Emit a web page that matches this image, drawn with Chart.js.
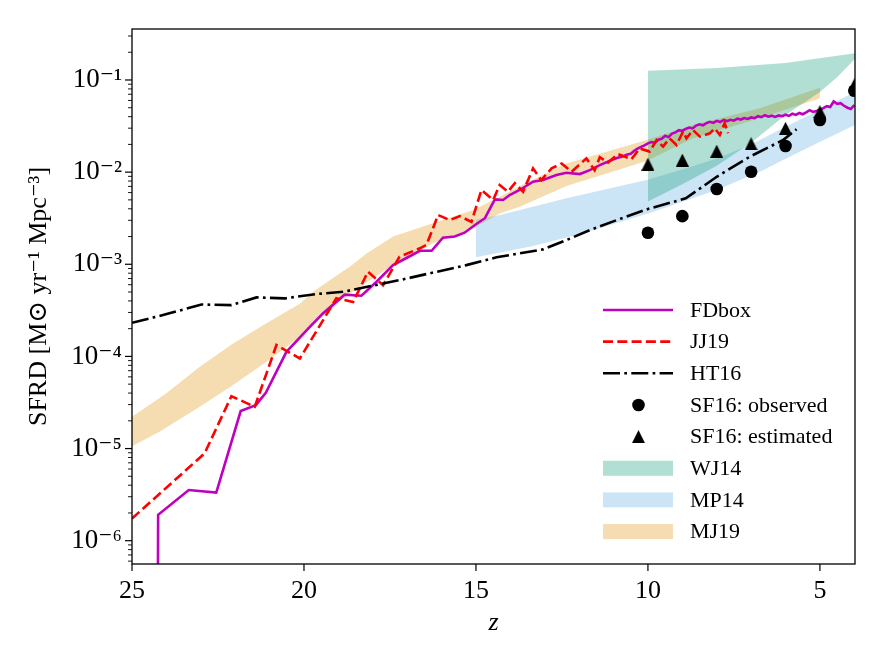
<!DOCTYPE html>
<html>
<head>
<meta charset="utf-8">
<script src="https://cdn.jsdelivr.net/npm/chart.js@4.4.1/dist/chart.umd.min.js"></script>
<style>html,body{margin:0;padding:0;background:#fff;}canvas{display:block;}</style>
</head>
<body>
<canvas id="c" width="884" height="663" style="width:884px;height:663px"></canvas>
<script>
// ---------------- data ----------------
const zTickValues = [25, 20, 15, 10, 5];

const fdboxZ = [24.26, 24.24, 23.35, 22.55, 21.84, 21.40, 21.11, 20.51, 19.83, 19.45, 18.82, 18.33, 17.89, 17.41, 17.02, 16.63, 16.29, 15.96, 15.62, 15.33, 15.03, 14.74, 14.45, 14.21, 14.02, 13.73, 13.34, 13.05, 12.66, 12.37, 11.98, 11.69, 11.40,
  11.0, 10.9, 10.8, 10.7, 10.6, 10.5, 10.4, 10.3, 10.2, 10.1, 10.0, 9.9, 9.8, 9.7, 9.6, 9.5, 9.4, 9.3, 9.2, 9.1, 9.0, 8.9, 8.8, 8.7, 8.6, 8.5, 8.4, 8.3, 8.2, 8.1, 8.0,
  7.9, 7.8, 7.7, 7.6, 7.5, 7.4, 7.3, 7.2, 7.1, 7.0, 6.9, 6.8, 6.7, 6.6, 6.5, 6.4, 6.3, 6.2, 6.1, 6.0, 5.9, 5.8, 5.7, 5.6, 5.5, 5.4, 5.3, 5.2, 5.1, 5.0,
  4.9, 4.8, 4.7, 4.6, 4.5, 4.4, 4.3, 4.2, 4.1, 4.0];
const fdboxSFRD = [1e-8, 1.91e-6, 3.55e-6, 3.33e-6, 2.55e-5, 2.96e-5, 4.03e-5, 1.12e-4, 2.09e-4, 2.93e-4, 4.68e-4, 4.55e-4, 6.46e-4, 9.79e-4, 1.17e-3, 1.40e-3, 1.40e-3, 1.94e-3, 2.00e-3, 2.20e-3, 2.67e-3, 3.16e-3, 5.06e-3, 4.98e-3, 5.64e-3, 6.40e-3, 7.87e-3, 8.20e-3, 9.31e-3, 9.86e-3, 9.53e-3, 1.05e-2, 1.19e-2,
  1.38e-2, 1.42e-2, 1.46e-2, 1.50e-2, 1.55e-2, 1.58e-2, 1.70e-2, 1.80e-2, 1.88e-2, 1.95e-2, 2.05e-2, 2.12e-2, 2.08e-2, 2.25e-2, 2.30e-2, 2.48e-2, 2.40e-2, 2.62e-2, 2.70e-2, 2.85e-2, 2.80e-2, 2.95e-2, 3.05e-2, 2.98e-2, 3.20e-2, 3.30e-2, 3.22e-2, 3.40e-2, 3.52e-2, 3.42e-2, 3.60e-2,
  3.50e-2, 3.68e-2, 3.58e-2, 3.70e-2, 3.62e-2, 3.80e-2, 3.72e-2, 3.86e-2, 3.78e-2, 3.92e-2, 3.85e-2, 4.05e-2, 3.95e-2, 4.15e-2, 4.00e-2, 4.10e-2, 3.98e-2, 4.12e-2, 4.05e-2, 4.20e-2, 4.08e-2, 4.30e-2, 4.18e-2, 4.38e-2, 4.25e-2, 4.45e-2, 4.70e-2, 4.50e-2, 4.62e-2, 4.75e-2,
  4.95e-2, 5.20e-2, 5.10e-2, 5.85e-2, 5.50e-2, 5.60e-2, 5.25e-2, 5.00e-2, 4.85e-2, 5.35e-2];

const jj19Z = [25.0, 22.89, 22.11, 21.43, 20.80, 20.12, 19.06, 18.57, 18.14, 17.70, 17.22, 16.63, 16.44, 16.10, 15.76, 15.47, 15.13, 14.84, 14.50, 14.31, 14.07, 13.87, 13.63, 13.34, 13.10, 12.80, 12.51, 12.22, 11.79, 11.55, 11.40, 11.16, 10.87, 10.48, 10.24, 9.95, 9.75, 9.56, 9.37, 9.17, 8.98, 8.88, 8.69, 8.49, 8.20, 8.06, 7.91, 7.77, 7.67];
const jj19SFRD = [1.74e-6, 8.85e-6, 3.70e-5, 2.84e-5, 1.33e-4, 9.50e-5, 4.27e-4, 3.90e-4, 8.30e-4, 5.94e-4, 1.21e-3, 1.49e-3, 1.62e-3, 3.42e-3, 3.02e-3, 3.33e-3, 2.89e-3, 6.40e-3, 4.98e-3, 7.25e-3, 6.12e-3, 7.59e-3, 6.12e-3, 1.10e-2, 8.20e-3, 1.10e-2, 1.24e-2, 1.01e-2, 1.41e-2, 1.05e-2, 1.45e-2, 1.27e-2, 1.57e-2, 1.38e-2, 1.81e-2, 1.67e-2, 2.23e-2, 1.89e-2, 2.33e-2, 1.97e-2, 2.75e-2, 2.33e-2, 2.86e-2, 2.43e-2, 2.64e-2, 2.99e-2, 2.53e-2, 3.39e-2, 2.64e-2];

const ht16Z = [25.0, 24.10, 22.98, 22.11, 21.38, 20.56, 19.64, 18.86, 17.22, 15.28, 14.40, 13.05, 12.37, 11.69, 10.72, 10.0, 8.9, 8.0, 7.04, 6.07, 5.68];
const ht16SFRD = [2.32e-4, 2.81e-4, 3.66e-4, 3.60e-4, 4.37e-4, 4.26e-4, 4.75e-4, 5.03e-4, 6.73e-4, 9.79e-4, 1.19e-3, 1.45e-3, 1.83e-3, 2.35e-3, 3.20e-3, 3.98e-3, 5.19e-3, 8.90e-3, 1.47e-2, 2.23e-2, 2.92e-2];

const sf16Z = [10, 9, 8, 7, 6, 5, 4];
const sf16Observed = [2.20e-3, 3.33e-3, 6.56e-3, 1.01e-2, 1.92e-2, 3.68e-2, 7.65e-2];
const sf16Estimated = [1.22e-2, 1.35e-2, 1.69e-2, 2.03e-2, 2.99e-2, 4.53e-2, 8.83e-2];

const wj14UpperZ = [10, 8, 6, 3.98];
const wj14Upper = [0.126, 0.135, 0.153, 0.195];
const wj14LowerZ = [10, 9, 8, 7, 6, 5, 4.5, 3.98];
const wj14Lower = [4.79e-3, 7.41e-3, 1.17e-2, 2.09e-2, 4.17e-2, 7.41e-2, 1.07e-1, 1.70e-1];

const mp14UpperZ = [15, 14.3, 12.37, 10.04, 9, 8, 7, 6, 5, 3.98];
const mp14Upper = [3.07e-3, 3.42e-3, 5.19e-3, 8.20e-3, 1.07e-2, 1.41e-2, 2.00e-2, 3.11e-2, 4.72e-2, 7.46e-2];
const mp14LowerZ = [15, 13.34, 11.89, 10, 8, 6.65, 6.07, 5.1, 3.98];
const mp14Lower = [1.19e-3, 1.58e-3, 2.17e-3, 3.55e-3, 6.40e-3, 1.05e-2, 1.35e-2, 2.05e-2, 3.24e-2];

const mj19UpperZ = [25, 24.0, 23.03, 22.06, 21.09, 20.12, 19.74, 19.16, 18.67, 18.18, 17.41, 16.25, 15.08, 14.31, 13.73, 12.37, 10.04, 8.69, 6.75, 5.0];
const mj19Upper = [2.21e-5, 3.98e-5, 7.71e-5, 1.38e-4, 2.29e-4, 3.72e-4, 5.01e-4, 7.08e-4, 9.40e-4, 1.31e-3, 2.00e-3, 2.78e-3, 3.87e-3, 5.41e-3, 7.08e-3, 1.24e-2, 2.23e-2, 3.24e-2, 4.93e-2, 8.26e-2];
const mj19LowerZ = [25, 24.2, 23.03, 22.06, 21.09, 20.12, 19.35, 18.67, 17.5, 16.25, 15.08, 14.31, 13.73, 12.37, 10.04, 8.69, 6.75, 5.0];
const mj19Lower = [1.06e-5, 1.52e-5, 2.84e-5, 4.88e-5, 8.75e-5, 1.63e-4, 2.93e-4, 4.83e-4, 9.33e-4, 1.69e-3, 2.45e-3, 3.55e-3, 4.22e-3, 7.08e-3, 1.32e-2, 2.33e-2, 3.84e-2, 6.32e-2];

// ---------------- helpers ----------------
const SERIF = "'Liberation Serif', 'DejaVu Serif', serif";
function pts(zs, vs) { return zs.map((z, i) => ({ x: z, y: vs[i] })); }
const SUP = { '-': '\u207B', '0': '\u2070', '1': '\u00B9', '2': '\u00B2', '3': '\u00B3', '4': '\u2074', '5': '\u2075', '6': '\u2076', '7': '\u2077', '8': '\u2078', '9': '\u2079' };
function sup(n) { return String(n).split('').map(c => SUP[c]).join(''); }

const triangle = (() => {
  const s = 13, c = document.createElement('canvas');
  c.width = s; c.height = s;
  const g = c.getContext('2d');
  g.fillStyle = '#000';
  g.beginPath(); g.moveTo(s / 2, 0); g.lineTo(s, s); g.lineTo(0, s); g.closePath(); g.fill();
  return c;
})();

const LW = 2.6;
const lineBase = { pointRadius: 0, pointHoverRadius: 0, tension: 0, fill: false, clip: 0 };
const bandBase = { pointRadius: 0, pointHoverRadius: 0, tension: 0, borderWidth: 0, borderColor: 'rgba(0,0,0,0)', clip: 0 };

const datasets = [
  { label: 'SF16: estimated', data: pts(sf16Z, sf16Estimated), showLine: false, pointStyle: triangle, pointRadius: 7, backgroundColor: '#000', borderWidth: 0, clip: 0, legendKind: 'marker' },
  { label: 'SF16: observed', data: pts(sf16Z, sf16Observed), showLine: false, pointStyle: 'circle', pointRadius: 6.3, backgroundColor: '#000', borderColor: '#000', borderWidth: 0, clip: 0, legendKind: 'marker' },
  { ...lineBase, label: 'HT16', data: pts(ht16Z, ht16SFRD), borderColor: '#000', borderWidth: LW, borderDash: [17, 4.3, 2.7, 4.3], legendKind: 'line' },
  { ...lineBase, label: 'JJ19', data: pts(jj19Z, jj19SFRD), borderColor: '#ff0000', borderWidth: LW, borderDash: [10, 4.3], legendKind: 'line' },
  { ...lineBase, label: 'FDbox', data: pts(fdboxZ, fdboxSFRD), borderColor: '#bf00bf', borderWidth: LW, legendKind: 'line' },
  { ...bandBase, label: 'WJ14', data: pts(wj14LowerZ, wj14Lower), fill: '+1', backgroundColor: 'rgba(0,150,110,0.30)', legendKind: 'patch' },
  { ...bandBase, label: 'WJ14 upper', data: pts(wj14UpperZ, wj14Upper), fill: false, backgroundColor: 'rgba(0,150,110,0.30)' },
  { ...bandBase, label: 'MP14', data: pts(mp14LowerZ, mp14Lower), fill: '+1', backgroundColor: 'rgba(50,150,220,0.25)', legendKind: 'patch' },
  { ...bandBase, label: 'MP14 upper', data: pts(mp14UpperZ, mp14Upper), fill: false, backgroundColor: 'rgba(50,150,220,0.25)' },
  { ...bandBase, label: 'MJ19', data: pts(mj19LowerZ, mj19Lower), fill: '+1', backgroundColor: 'rgba(230,170,60,0.40)', legendKind: 'patch' },
  { ...bandBase, label: 'MJ19 upper', data: pts(mj19UpperZ, mj19Upper), fill: false, backgroundColor: 'rgba(230,170,60,0.40)' }
];

const legendOrder = ['FDbox', 'JJ19', 'HT16', 'SF16: observed', 'SF16: estimated', 'WJ14', 'MP14', 'MJ19'];

// ---------------- plugins ----------------
const framePlugin = {
  id: 'frameTicks',
  afterDraw(chart) {
    const ctx = chart.ctx, a = chart.chartArea;
    ctx.save();
    ctx.strokeStyle = '#000';
    const ys = chart.scales.y, xs = chart.scales.x;
    ys.ticks.forEach(t => {
      const p = ys.getPixelForValue(t.value);
      if (p < a.top - 0.5 || p > a.bottom + 0.5) return;
      const major = t.major;
      ctx.lineWidth = major ? 1.2 : 0.9;
      ctx.beginPath(); ctx.moveTo(a.left, p); ctx.lineTo(a.left - (major ? 7 : 4), p); ctx.stroke();
    });
    xs.ticks.forEach(t => {
      const p = xs.getPixelForValue(t.value);
      ctx.lineWidth = 1.2;
      ctx.beginPath(); ctx.moveTo(p, a.bottom); ctx.lineTo(p, a.bottom + 7); ctx.stroke();
    });
    ctx.lineWidth = 1.3;
    ctx.strokeRect(a.left, a.top, a.right - a.left, a.bottom - a.top);
    ctx.restore();
  }
};

const legendPlugin = {
  id: 'innerLegend',
  afterDraw(chart) {
    const ctx = chart.ctx;
    const x0 = 603, x1 = 673, tx = 690, y0 = 310, dy = 31.65;
    ctx.save();
    legendOrder.forEach((name, i) => {
      const ds = chart.data.datasets.find(d => d.label === name);
      const y = y0 + i * dy;
      if (ds.legendKind === 'line') {
        ctx.strokeStyle = ds.borderColor; ctx.lineWidth = ds.borderWidth;
        ctx.setLineDash(ds.borderDash || []);
        ctx.beginPath(); ctx.moveTo(x0, y); ctx.lineTo(x1, y); ctx.stroke();
        ctx.setLineDash([]);
      } else if (ds.legendKind === 'marker') {
        const cx = (x0 + x1) / 2 + 0.5;
        if (ds.pointStyle === 'circle') {
          ctx.fillStyle = '#000'; ctx.beginPath(); ctx.arc(cx, y, ds.pointRadius, 0, Math.PI * 2); ctx.fill();
        } else {
          ctx.drawImage(ds.pointStyle, cx - ds.pointStyle.width / 2, y - ds.pointStyle.height / 2);
        }
      } else {
        ctx.fillStyle = ds.backgroundColor;
        ctx.fillRect(x0, y - 7.5, x1 - x0, 15);
      }
      ctx.fillStyle = '#000';
      ctx.font = '22px ' + SERIF;
      ctx.textBaseline = 'middle';
      ctx.textAlign = 'left';
      ctx.fillText(name, tx, y + 1);
    });
    ctx.restore();
  }
};

// ---------------- chart ----------------
new Chart(document.getElementById('c'), {
  type: 'line',
  data: { datasets },
  plugins: [framePlugin, legendPlugin],
  options: {
    responsive: false,
    animation: false,
    events: [],
    layout: { padding: { left: 0, top: 29, right: 29, bottom: 0 } },
    plugins: {
      legend: { display: false },
      tooltip: { enabled: false },
      filler: { drawTime: 'beforeDatasetsDraw' }
    },
    scales: {
      x: {
        type: 'linear',
        reverse: true,
        min: 3.98,
        max: 25,
        grid: { display: false, drawTicks: false },
        border: { display: false },
        afterBuildTicks: s => { s.ticks = zTickValues.map(v => ({ value: v })); },
        afterFit: s => { s.height = 99; },
        ticks: { autoSkip: false, maxRotation: 0, padding: 12, color: '#000', font: { family: SERIF, size: 26 }, callback: v => String(v) },
        title: { display: true, text: 'z', color: '#000', font: { family: SERIF, size: 26, style: 'italic' }, padding: { top: 0, bottom: 24 } }
      },
      y: {
        type: 'logarithmic',
        min: 5.585e-7,
        max: 0.3576,
        grid: { display: false, drawTicks: false },
        border: { display: false },
        afterBuildTicks: s => {
          const t = [];
          for (let e = -7; e <= 0; e++) for (let m = 1; m <= 9; m++) {
            const v = m * Math.pow(10, e);
            if (v >= s.min && v <= s.max) t.push({ value: v, major: m === 1 });
          }
          s.ticks = t;
        },
        afterFit: s => { s.width = 132; },
        ticks: {
          autoSkip: false, padding: 10, color: '#000', font: { family: SERIF, size: 27 },
          callback: v => {
            const e = Math.round(Math.log10(v));
            return Math.abs(v / Math.pow(10, e) - 1) < 1e-6 ? '10' + sup(e) : '';
          }
        },
        title: { display: true, text: 'SFRD [M\u2299 yr\u207B\u00B9 Mpc\u207B\u00B3]', color: '#000', font: { family: SERIF, size: 26 }, padding: { top: 24, bottom: 0 } }
      }
    }
  }
});
</script>
</body>
</html>
